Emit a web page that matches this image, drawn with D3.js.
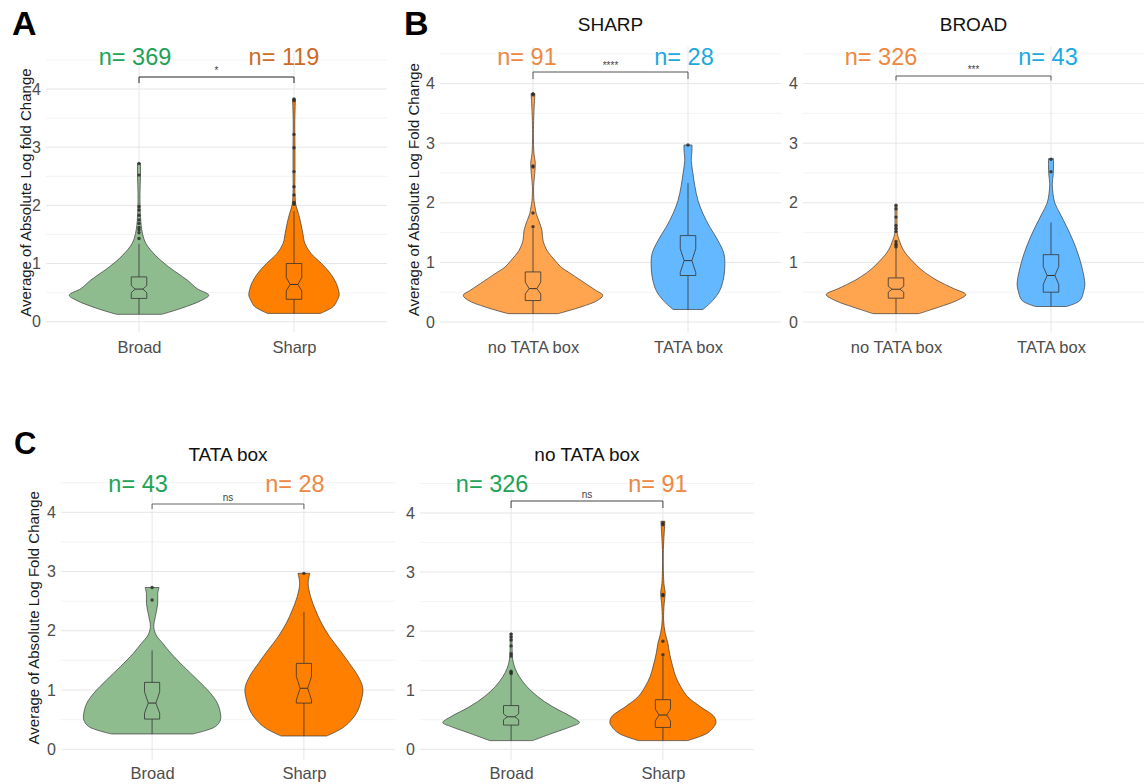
<!DOCTYPE html>
<html><head><meta charset="utf-8">
<script src="https://cdn.jsdelivr.net/npm/d3@7"></script>
<style>
body{margin:0;background:#fff;}
svg{display:block;font-family:"Liberation Sans",Arial,Helvetica,sans-serif;}
</style></head><body>
<svg id="chart" width="1145" height="784"></svg>
<script>
// ---------------- DATA ----------------
const catsPromoter = ["Broad", "Sharp"];
const catsTata = ["no TATA box", "TATA box"];
const yTicks = [0, 1, 2, 3, 4];
const yMinorTicks = [0.5, 1.5, 2.5, 3.5, 4.5];

// violin profiles: [value, relative density]
const violinA_Broad = [[0.127,23],[0.23,43],[0.37,64],[0.455,71],[0.57,59],[0.716,49],[0.945,30],[1.145,16.5],[1.346,7],[1.52,3.5],[1.8,1.5],[2.2,1],[2.5,1.5],[2.72,1.5]];
const violinA_Sharp = [[0.143,27],[0.26,40],[0.37,44],[0.458,46],[0.66,43],[0.83,37],[1.0,28],[1.17,17.5],[1.35,11],[1.52,9],[1.69,7],[1.86,4.5],[2.0,2],[2.2,1],[2.6,1],[3.0,1],[3.4,0.8],[3.7,1.2],[3.83,1.5]];
const violinSharp_NoTata = [[0.14,25],[0.252,48],[0.364,65],[0.448,70],[0.531,63],[0.643,53],[0.811,38],[0.923,28],[1.035,22],[1.203,14],[1.371,10],[1.538,9],[1.706,5.7],[1.818,3.3],[1.93,2],[2.04,1],[2.27,0.6],[2.49,1.7],[2.66,2.3],[2.83,1],[3.16,0.4],[3.72,1.5],[3.83,2]];
const violinSharp_Tata = [[0.21,15],[0.364,25],[0.531,32],[0.76,36],[0.98,37],[1.15,36],[1.37,30],[1.59,22],[1.82,15],[2.04,10],[2.27,7],[2.49,5],[2.71,3.3],[2.88,4],[2.97,4]];
const violinBroad_NoTata = [[0.14,23],[0.25,43],[0.36,61],[0.46,70],[0.56,58],[0.7,41],[0.87,26],[1.03,16],[1.2,7.7],[1.37,3.3],[1.48,1.3],[1.7,1],[1.96,1]];
const violinBroad_Tata = [[0.26,15.5],[0.36,29],[0.53,33],[0.64,34],[0.92,31],[1.15,27],[1.37,22],[1.59,16],[1.82,9],[1.99,4],[2.15,2],[2.32,1.3],[2.49,2.3],[2.6,2.5],[2.74,2.5]];
const violinC_Tata_Broad = [[0.259,41],[0.383,64],[0.495,69],[0.608,69],[0.776,66],[0.945,59],[1.17,46],[1.395,32],[1.62,19],[1.79,10.7],[1.93,4],[2.07,1.7],[2.24,3.3],[2.46,5.7],[2.63,5.7],[2.73,7]];
const violinC_Tata_Sharp = [[0.225,23],[0.383,41],[0.608,53],[0.833,58],[1.03,59.5],[1.226,55],[1.45,46],[1.68,36],[1.9,26],[2.13,17.7],[2.35,11.7],[2.58,6.7],[2.8,4.3],[2.97,6]];
const violinC_NoTata_Broad = [[0.147,21.7],[0.271,42],[0.384,61],[0.452,69.5],[0.554,61],[0.723,42],[0.893,27],[1.062,16],[1.232,8.3],[1.373,4],[1.514,1.7],[1.74,1],[1.966,1]];
const violinC_NoTata_Sharp = [[0.147,25],[0.271,45],[0.384,52],[0.452,54],[0.554,52],[0.723,38],[0.893,25],[1.062,18],[1.232,13],[1.4,10],[1.63,6.7],[1.8,5],[1.97,2.3],[2.19,0.7],[2.47,1.3],[2.64,2.3],[2.81,1],[3.32,0.4],[3.77,1.7],[3.86,2]];

// box stats: [whiskerLow, q1, notchLow, median, notchHigh, q3, whiskerHigh]
const boxA_Broad = [0.13, 0.40, 0.50, 0.56, 0.62, 0.77, 1.34];
const boxA_Sharp = [0.143, 0.385, 0.53, 0.64, 0.76, 1.0, 1.9];
const boxSharp_NoTata = [0.14, 0.36, 0.47, 0.56, 0.67, 0.84, 1.57];
const boxSharp_Tata = [0.21, 0.78, 0.83, 1.03, 1.23, 1.45, 2.33];
const boxBroad_NoTata = [0.14, 0.40, 0.50, 0.55, 0.60, 0.74, 1.25];
const boxBroad_Tata = [0.26, 0.50, 0.63, 0.78, 0.93, 1.13, 1.67];
const boxC_Tata_Broad = [0.26, 0.51, 0.61, 0.78, 0.97, 1.13, 1.67];
const boxC_Tata_Sharp = [0.225, 0.78, 0.83, 1.03, 1.23, 1.45, 2.32];
const boxC_NoTata_Broad = [0.147, 0.41, 0.50, 0.55, 0.60, 0.74, 1.25];
const boxC_NoTata_Sharp = [0.147, 0.37, 0.48, 0.58, 0.68, 0.84, 1.57];

// outliers
const outA_Broad = [1.43,1.53,1.58,1.62,1.69,1.75,1.83,1.92,1.98,2.52,2.72];
const outA_Sharp = [2.02,2.05,2.18,2.32,2.58,2.99,3.22,3.80,3.83];
const outSharp_NoTata = [1.60,1.83,2.60,2.62,3.81,3.83];
const outSharp_Tata = [2.97];
const outBroad_NoTata = [1.26,1.29,1.31,1.35,1.52,1.57,1.62,1.76,1.90,1.96];
const outBroad_Tata = [2.52,2.73];
const outC_Tata_Broad = [2.52,2.73];
const outC_Tata_Sharp = [2.97];
const outC_NoTata_Broad = [1.28,1.30,1.32,1.58,1.62,1.75,1.85,1.90,1.95];
const outC_NoTata_Sharp = [1.60,1.83,2.60,2.62,3.80,3.83];

// sample sizes and significance
const nA = [369, 119];
const nSharp = [91, 28];
const nBroad = [326, 43];
const nC_Tata = [43, 28];
const nC_NoTata = [326, 91];
const sigLabels = ["*", "****", "***", "ns", "ns"];
const panelTitles = [null, "SHARP", "BROAD", "TATA box", "no TATA box"];

// ---------------- STYLE / LAYOUT ----------------
const GREEN = "#8fbc8f", ORANGE = "#ff7f00", LORANGE = "#ffa54f", BLUE = "#63b8ff";
const N_GREEN = "#21a357", N_BROWN = "#cd6b27", N_ORANGE = "#ed8843", N_BLUE = "#1ba9e1";

const panels = [
  {cats: catsPromoter, left: 46, right: 387, y0: 321.7, y4: 89,
   violins: [violinA_Broad, violinA_Sharp], boxes: [boxA_Broad, boxA_Sharp], outs: [outA_Broad, outA_Sharp],
   fills: [GREEN, ORANGE], n: nA, nColors: [N_GREEN, N_BROWN], nOff: [-4, -10], nBase: 65,
   sig: sigLabels[0], brY: 77, brTick: 6, brColor: "#222", title: panelTitles[0],
   letter: "A", letterX: 12, letterY: 35, letterSize: 34,
   yTitle: "Average of Absolute Log fold Change", yTitleX: 25, xLabTop: 341},
  {cats: catsTata, left: 440, right: 781, y0: 322, y4: 83.6,
   violins: [violinSharp_NoTata, violinSharp_Tata], boxes: [boxSharp_NoTata, boxSharp_Tata], outs: [outSharp_NoTata, outSharp_Tata],
   fills: [LORANGE, BLUE], n: nSharp, nColors: [N_ORANGE, N_BLUE], nOff: [-6, -4], nBase: 65,
   sig: sigLabels[1], brY: 72, brTick: 7, brColor: "#555", title: panelTitles[1], titleBase: 30.5,
   letter: "B", letterX: 404, letterY: 35, letterSize: 34,
   yTitle: "Average of Absolute Log Fold Change", yTitleX: 413.5, xLabTop: 341},
  {cats: catsTata, left: 803, right: 1144, y0: 322, y4: 83.6,
   violins: [violinBroad_NoTata, violinBroad_Tata], boxes: [boxBroad_NoTata, boxBroad_Tata], outs: [outBroad_NoTata, outBroad_Tata],
   fills: [LORANGE, BLUE], n: nBroad, nColors: [N_ORANGE, N_BLUE], nOff: [-15, -3], nBase: 65,
   sig: sigLabels[2], brY: 76, brTick: 4.5, brColor: "#555", title: panelTitles[2], titleBase: 30.5,
   xLabTop: 341},
  {cats: catsPromoter, left: 61, right: 395, y0: 749.3, y4: 512.3,
   violins: [violinC_Tata_Broad, violinC_Tata_Sharp], boxes: [boxC_Tata_Broad, boxC_Tata_Sharp], outs: [outC_Tata_Broad, outC_Tata_Sharp],
   fills: [GREEN, ORANGE], n: nC_Tata, nColors: [N_GREEN, N_ORANGE], nOff: [-14, -9], nBase: 491.5,
   sig: sigLabels[3], brY: 504, brTick: 5, brColor: "#666", title: panelTitles[3], titleBase: 460.5,
   letter: "C", letterX: 14, letterY: 453.5, letterSize: 31,
   yTitle: "Average of Absolute Log Fold Change", yTitleX: 33, xLabTop: 767.5},
  {cats: catsPromoter, left: 420, right: 754, y0: 749.3, y4: 513,
   violins: [violinC_NoTata_Broad, violinC_NoTata_Sharp], boxes: [boxC_NoTata_Broad, boxC_NoTata_Sharp], outs: [outC_NoTata_Broad, outC_NoTata_Sharp],
   fills: [GREEN, ORANGE], n: nC_NoTata, nColors: [N_GREEN, N_ORANGE], nOff: [-19, -5], nBase: 491.5,
   sig: sigLabels[4], brY: 501, brTick: 7, brColor: "#444", title: panelTitles[4], titleBase: 460.5,
   xLabTop: 767.5}
];

const svg = d3.select("#chart");

function drawPanel(p) {
  const g = svg.append("g");
  const x = d3.scalePoint().domain(p.cats).range([p.left, p.right]).padding(0.6);
  const y = d3.scaleLinear().domain([0, 4]).range([p.y0, p.y4]);
  const step = x.step();
  const yTop = y(4.62), yBot = y(-0.18);

  // grid
  g.selectAll(".minor").data(yMinorTicks).join("line")
    .attr("x1", p.left).attr("x2", p.right)
    .attr("y1", d => y(d)).attr("y2", d => y(d))
    .attr("stroke", "#f0f0f0").attr("stroke-width", 0.8);
  g.selectAll(".major").data(yTicks).join("line")
    .attr("x1", p.left).attr("x2", p.right)
    .attr("y1", d => y(d)).attr("y2", d => y(d))
    .attr("stroke", "#e6e6e6").attr("stroke-width", 1);
  g.selectAll(".vgrid").data(p.cats).join("line")
    .attr("x1", d => x(d)).attr("x2", d => x(d))
    .attr("y1", yTop).attr("y2", yBot)
    .attr("stroke", "#e6e6e6").attr("stroke-width", 1);

  // axes
  const ya = g.append("g").attr("transform", `translate(${p.left},0)`)
    .call(d3.axisLeft(y).tickValues(yTicks).tickSize(0).tickPadding(5).tickFormat(d3.format("d")));
  ya.select(".domain").remove();
  ya.selectAll("text").attr("font-size", 16).attr("fill", "#4d4d4d").attr("font-family", "Liberation Sans, Arial, sans-serif");

  const xa = g.append("g").attr("transform", `translate(0,${p.xLabTop})`)
    .call(d3.axisBottom(x).tickSize(0).tickPadding(0));
  xa.select(".domain").remove();
  xa.selectAll("text").attr("font-size", 16.5).attr("fill", "#4d4d4d").attr("font-family", "Liberation Sans, Arial, sans-serif");

  // violins
  const maxD = d3.max(p.violins, v => d3.max(v, d => d[1]));
  const hw = d => d / maxD * 0.45 * step;
  p.cats.forEach((c, i) => {
    const cx = x(c);
    const area = d3.area()
      .curve(d3.curveCatmullRom.alpha(0.5))
      .y(d => y(d[0]))
      .x0(d => cx - hw(d[1]))
      .x1(d => cx + hw(d[1]));
    g.append("path").datum(p.violins[i]).attr("d", area)
      .attr("fill", p.fills[i]).attr("stroke", "#3a3a3a").attr("stroke-width", 0.7);

    // box
    const [wl, q1, nl, med, nh, q3, wh] = p.boxes[i];
    const half = 0.05 * step, nq = 0.025 * step;
    const bp = d3.path();
    bp.moveTo(cx - half, y(q1)); bp.lineTo(cx - half, y(nl)); bp.lineTo(cx - nq, y(med));
    bp.lineTo(cx - half, y(nh)); bp.lineTo(cx - half, y(q3)); bp.lineTo(cx + half, y(q3));
    bp.lineTo(cx + half, y(nh)); bp.lineTo(cx + nq, y(med)); bp.lineTo(cx + half, y(nl));
    bp.lineTo(cx + half, y(q1)); bp.closePath();
    g.append("line").attr("x1", cx).attr("x2", cx).attr("y1", y(wl)).attr("y2", y(q1))
      .attr("stroke", "#333").attr("stroke-width", 0.8);
    g.append("line").attr("x1", cx).attr("x2", cx).attr("y1", y(q3)).attr("y2", y(wh))
      .attr("stroke", "#333").attr("stroke-width", 0.8);
    g.append("path").attr("d", bp.toString()).attr("fill", "none")
      .attr("stroke", "#333").attr("stroke-width", 0.8);
    g.append("line").attr("x1", cx - nq).attr("x2", cx + nq).attr("y1", y(med)).attr("y2", y(med))
      .attr("stroke", "#333").attr("stroke-width", 1);

    g.selectAll(null).data(p.outs[i]).join("circle")
      .attr("cx", cx).attr("cy", d => y(d)).attr("r", 1.7)
      .attr("fill", "#2a2a2a").attr("opacity", 0.85);

    // n label
    g.append("text").attr("x", cx + p.nOff[i]).attr("y", p.nBase)
      .attr("text-anchor", "middle").attr("font-size", 23.5).attr("fill", p.nColors[i])
      .text("n= " + p.n[i]);
  });

  // bracket
  const x1 = x(p.cats[0]), x2 = x(p.cats[1]);
  g.append("path")
    .attr("d", `M${x1},${p.brY + p.brTick}V${p.brY}H${x2}V${p.brY + p.brTick}`)
    .attr("fill", "none").attr("stroke", p.brColor).attr("stroke-width", 1);
  g.append("text").attr("x", (x1 + x2) / 2).attr("y", p.brY - 3)
    .attr("text-anchor", "middle").attr("font-size", 10).attr("fill", "#444").text(p.sig);

  if (p.title) {
    g.append("text").attr("x", (p.left + p.right) / 2).attr("y", p.titleBase)
      .attr("text-anchor", "middle").attr("font-size", 19).attr("fill", "#111").text(p.title);
  }
  if (p.yTitle) {
    const cy = (yTop + yBot) / 2;
    g.append("text").attr("transform", `translate(${p.yTitleX},${cy}) rotate(-90)`)
      .attr("text-anchor", "middle").attr("dominant-baseline", "central")
      .attr("font-size", 15).attr("fill", "#1a1a1a").text(p.yTitle);
  }
  if (p.letter) {
    g.append("text").attr("x", p.letterX).attr("y", p.letterY)
      .attr("font-size", p.letterSize).attr("font-weight", "bold").attr("fill", "#000").text(p.letter);
  }
}

panels.forEach(drawPanel);
</script>
</body></html>
